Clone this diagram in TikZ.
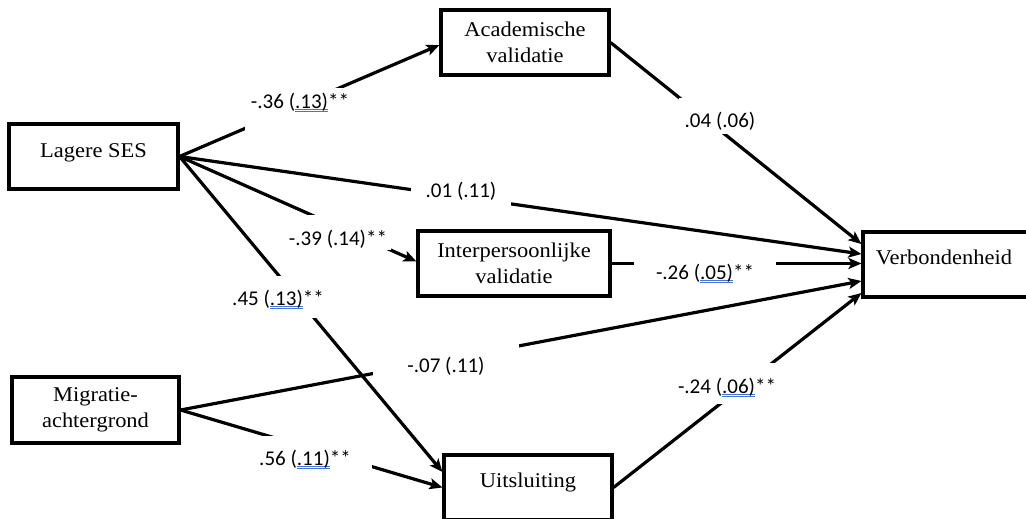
\documentclass[tikz,border=0pt]{standalone}
\usepackage{fontspec}
\usetikzlibrary{arrows.meta,backgrounds}
\newfontfamily\boxfont[FakeStretch=1.07]{Liberation Serif}
\newfontfamily\labfont{Carlito}
\definecolor{ulblue}{RGB}{70,115,215}
\newcommand\dul[1]{\setbox0\hbox{#1}\rlap{\color{ulblue}\rule[-1.4pt]{\wd0}{0.8pt}}\rlap{\color{ulblue}\rule[-3.6pt]{\wd0}{0.8pt}}\box0}
\begin{document}
\begin{tikzpicture}[x=1pt,y=-1pt,
  box/.style={draw, line width=3.1pt, inner xsep=0pt, inner ysep=0pt, align=center,
    font=\boxfont\fontsize{21}{26}\selectfont},
  arr/.style={line width=3.2pt, -{Stealth[length=13pt,width=11pt,inset=3pt]}},
  lab/.style={fill=white, inner ysep=0pt, anchor=base,
    font=\labfont\fontsize{21}{25}\selectfont}]
\useasboundingbox (0,0) rectangle (1026,519);
\clip (0,0) rectangle (1026,519);
% boxes
\node[box, minimum width=169pt, text height=33pt, text depth=32pt] (ses) at (93.5,156.5) {Lagere SES};
\node[box, minimum width=167pt, minimum height=66pt] (migr) at (95.5,410) {Migratie-\\achtergrond};
\node[box, minimum width=168pt, minimum height=65pt] (acad) at (525,42.5) {Academische\\validatie};
\node[box, minimum width=192pt, minimum height=65pt] (interp) at (514,263.5) {Interpersoonlijke\\validatie};
\node[box, minimum width=168pt, text height=32pt, text depth=33pt] (uits) at (528,487.5) {Uitsluiting};
\node[box, minimum width=182pt, text height=32pt, text depth=33pt] (verb) at (954,264.5) {Verbondenheid\hspace{20pt}};
% connectors
\begin{pgfonlayer}{background}
\fill[white] (0,0) rectangle (1026,519);
\draw[arr] (ses.east) -- ([yshift=-2.5pt]acad.west);
\draw[arr] (acad.east) -- ([yshift=20.5pt]verb.west);
\draw[arr] (ses.east) -- ([yshift=10.5pt]verb.west);
\draw[arr] (ses.east) -- ([yshift=2pt]interp.west);
\draw[arr] (ses.east) -- ([yshift=15.5pt]uits.west);
\draw[arr] (interp.east) -- (interp.east -| verb.west);
\draw[arr] (migr.east) -- ([yshift=-16.5pt]verb.west);
\draw[arr] (migr.east) -- (uits.west);
\draw[arr] (uits.east) -- ([yshift=-28.5pt]verb.west);
\end{pgfonlayer}
% labels
\node[lab, text height=20pt, text depth=22pt, inner xsep=6pt] (l1) at (300,108) {-.36 (\dul{.13)}**};
\node[lab, text height=29pt, text depth=7pt, inner xsep=6pt] (l2) at (720,127) {.04 (.06)};
\node[lab, text height=22pt, text depth=10pt, inner xsep=15pt] (l3) at (461,197) {.01 (.11)};
\node[lab, text height=30pt, text depth=5pt, inner xsep=4pt] (l4) at (338,245) {-.39 (.14)**};
\node[lab, text height=29pt, text depth=13pt, inner xsep=4pt] (l5) at (278,305) {.45 (\dul{.13)}**};
\node[lab, text height=20pt, text depth=10pt, inner xsep=22pt] (l6) at (705,279) {-.26 (\dul{.05)}**};
\node[lab, text height=28pt, text depth=5pt, inner xsep=34pt] (l7) at (446,372) {-.07 (.11)};
\node[lab, text height=29pt, text depth=5pt, inner xsep=21pt] (l8) at (305,465) {.56 (\dul{.11)}**};
\node[lab, text height=30pt, text depth=11pt, inner xsep=4pt] (l9) at (727,393) {-.24 (\dul{.06)}**};
\end{tikzpicture}
\end{document}
